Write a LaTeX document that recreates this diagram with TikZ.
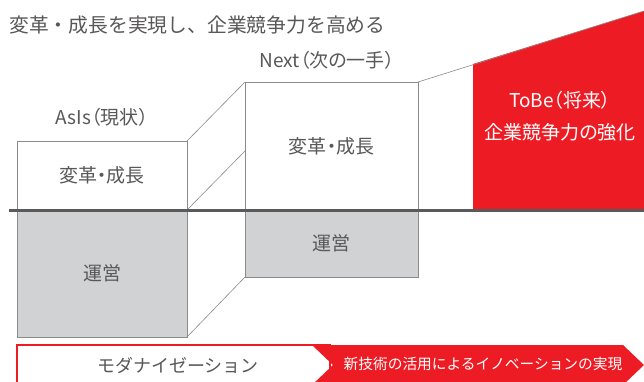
\documentclass[tikz,border=0pt]{standalone}
\usepackage{fontspec}
\newfontfamily\jpfont[RawFeature=+palt]{Noto Sans CJK JP}
\newfontfamily\jpwide{Noto Sans CJK JP}
\usetikzlibrary{calc}
\definecolor{jred}{HTML}{ED1C24}
\definecolor{txtgray}{HTML}{595757}
\definecolor{linegray}{HTML}{8A8A8A}
\definecolor{opgray}{HTML}{D1D2D4}
\definecolor{basegray}{HTML}{5A5A5A}
\tikzset{
 box/.style={draw=linegray, line width=.8, inner sep=0pt, outer sep=0pt, anchor=north west, text=txtgray, font=\jpfont\fontsize{19}{19}\selectfont},
 lbl/.style={text=txtgray, inner sep=0pt, font=\jpfont\fontsize{19}{19}\selectfont},
 link/.style={linegray, line width=.6},
}

\begin{document}
\begin{tikzpicture}[x=1pt,y=-1pt]
\useasboundingbox (0,0) rectangle (644,381);
\node[lbl, anchor=west, font=\jpwide\fontsize{19.8}{20}\selectfont] (title) at (9,25) {変革・成長を実現し、企業競争力を高める};
\coordinate (tobetip) at (644,11);
\coordinate (tobecut) at (473,64);
\fill[jred] (tobecut) -- (tobetip) -- (644,210) -- (473,210) -- cycle;
\node[box, fill=white, minimum width=170, minimum height=69] (asisup) at (17,141) {変革・成長};
\node[box, fill=opgray, minimum width=170, minimum height=127] (asisop) at (17,210) {運営};
\node[box, fill=white, minimum width=173, minimum height=128] (nextup) at (245,82) {変革・成長};
\node[box, fill=opgray, minimum width=173, minimum height=67] (nextop) at (245,210) {運営};
\coordinate (nextmid) at (245,151);
\draw[link] (asisup.north east) -- (nextup.north west);
\draw[link] (asisup.south east) -- (nextmid);
\draw[link] (asisop.south east) -- (nextop.south west);
\draw[link] (nextup.north east) -- (tobetip);
\node[lbl] (asis) at (102,117) {AsIs（現状）};
\node[lbl] (next) at (327,60) {Next（次の一手）};
\node[lbl, text=white, align=center, font=\jpfont\fontsize{19}{32}\selectfont] (tobe) at (560,116) {ToBe（将来）\\企業競争力の強化};
\coordinate (base) at (9,210);
\draw[basegray, line width=3] (base) -- (644,210);
\draw[jred, line width=2, fill=white] (17,390) -- (17,345) -- (330,345) -- (330,390);
\fill[jred] (312,345) -- (623,345) -- (644,365) -- (623,385) -- (312,385) -- (333,365) -- cycle;
\node[lbl, font=\jpwide\fontsize{18}{18}\selectfont] (modern) at (178,365) {モダナイゼーション};
\node[lbl, text=white, font=\jpwide\fontsize{14.7}{15}\selectfont] (innov) at (483,364) {新技術の活用によるイノベーションの実現};
\end{tikzpicture}
\end{document}
